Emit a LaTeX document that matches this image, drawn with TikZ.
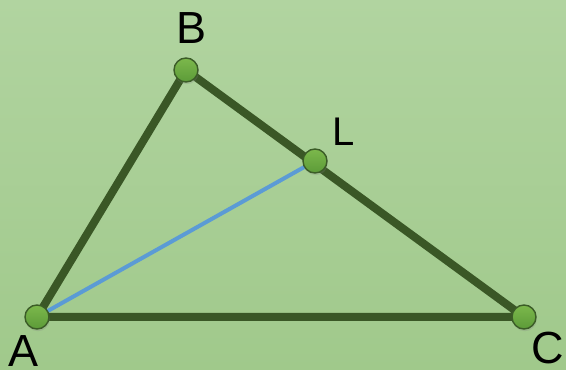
\documentclass[tikz,border=0pt]{standalone}
\usepackage{fontspec}
\setmainfont{Liberation Sans}
\usetikzlibrary{backgrounds,shadows}

\definecolor{bgtop}{HTML}{B1D4A0}
\definecolor{bgbot}{HTML}{A0C98B}
\definecolor{side}{HTML}{3A5726}
\definecolor{bisect}{HTML}{5B9BD5}
\definecolor{ptlight}{HTML}{7CB84C}
\definecolor{ptdark}{HTML}{5C9B38}
\definecolor{ptrim}{HTML}{3B5C27}

\begin{document}
\begin{tikzpicture}[
  x=1pt,y=1pt,
  line cap=round,
  point/.style={circle,draw=ptrim,line width=1.4pt,minimum size=24pt,inner sep=0pt,
    top color=ptlight,bottom color=ptdark,
    drop shadow={opacity=0.25,shadow xshift=0.8pt,shadow yshift=-2.2pt}},
  side line/.style={draw=side,line width=8pt},
  bisect line/.style={draw=bisect,line width=4pt},
  vertex label/.style={inner sep=0pt,font=\fontsize{45}{54}\selectfont},
]
\useasboundingbox (0,0) rectangle (566,370);
\node[point] (A) at (37,53) {};
\node[point] (B) at (186,300) {};
\node[point] (L) at (315,209) {};
\node[point] (C) at (524,53) {};
\node[vertex label] (lA) at (24,19) {A};
\node[vertex label] (lB) at (192,342) {B};
\node[vertex label,font=\fontsize{40}{48}\selectfont] (lL) at (344,238) {L};
\node[vertex label] (lC) at (548,22) {C};
\begin{scope}[on background layer]
  \shade[top color=bgtop,bottom color=bgbot] (0,0) rectangle (566,370);
  \draw[bisect line] (A.center) -- (L.center);
  \draw[side line] (A.center) -- (B.center) -- (C.center) -- cycle;
\end{scope}
\end{tikzpicture}
\end{document}
